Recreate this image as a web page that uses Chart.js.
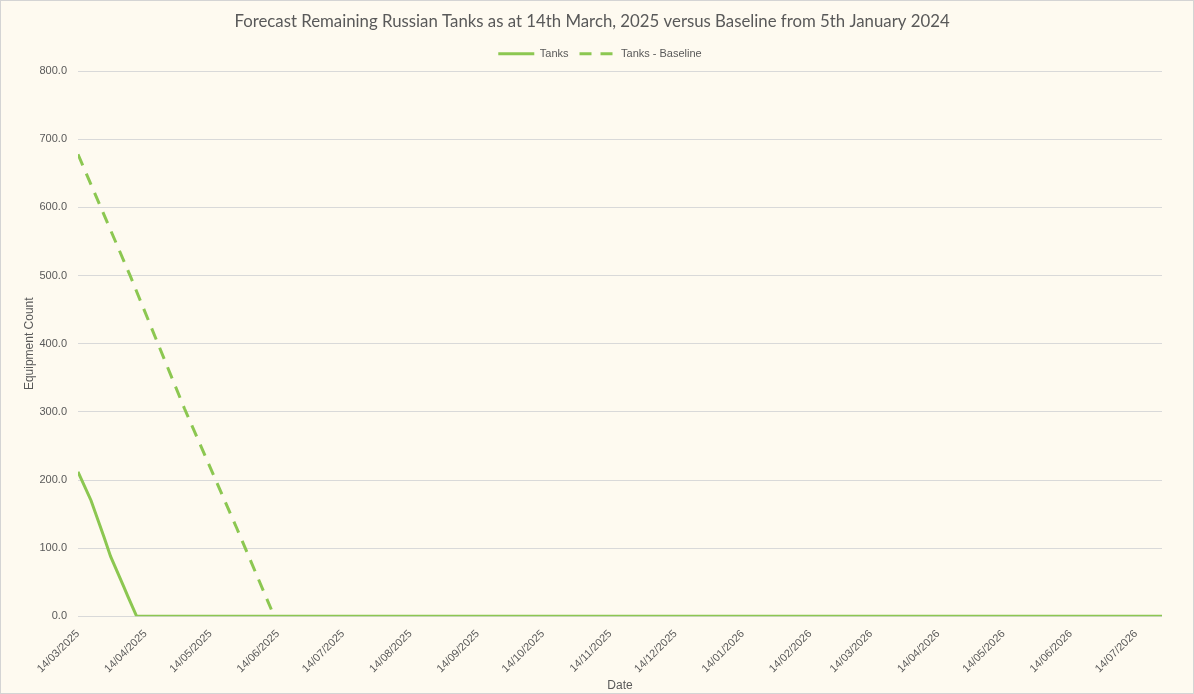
<!DOCTYPE html>
<html>
<head>
<meta charset="utf-8">
<script src="https://cdn.jsdelivr.net/npm/chart.js@4.4.1/dist/chart.umd.min.js"></script>
<style>
  body { margin: 0; background: #fff; }
  #wrap { width: 1194px; height: 694px; box-sizing: border-box; border: 1px solid #d4d4d4; background: #fefaf0; }
  #c { display: block; }
</style>
</head>
<body>
<div id="wrap"><canvas id="c" width="1192" height="692"></canvas></div>
<script>
// days counted from 14/03/2025
var startDate = '14/03/2025'
var lastDay = 499

var tanksDays   = [0, 6, 10, 12, 15, 18, 21, 23, 27, 499]
var tanksValues = [212, 170, 134, 116, 88, 66, 44, 29, 0, 0]

var baseDays   = [0, 24, 49, 73, 89]
var baseValues = [678, 500, 305, 130, 10]

var tickLabels = ['14/03/2025','14/04/2025','14/05/2025','14/06/2025','14/07/2025','14/08/2025',
  '14/09/2025','14/10/2025','14/11/2025','14/12/2025','14/01/2026','14/02/2026','14/03/2026',
  '14/04/2026','14/05/2026','14/06/2026','14/07/2026']

var yTicks = [0, 100, 200, 300, 400, 500, 600, 700, 800]

var green = '#8cc751'
var grey = '#595959'

function parse_fecha(s){
  var p = s.split('/')
  return Date.UTC(+p[2], +p[1] - 1, +p[0])
}

function dias_desde_inicio(s){
  return Math.round((parse_fecha(s) - parse_fecha(startDate)) / 86400000)
}

function to_points(days, vals){
  var out = []
  for (var i = 0; i < days.length; i++){
    out.push({x: days[i], y: vals[i]})
  }
  return out
}

var tickDays = tickLabels.map(dias_desde_inicio)

// the excel legend sits a bit right of centre and a little higher
var moverLeyenda = {
  id: 'moverLeyenda',
  afterLayout: function(chart){
    chart.legend.left += 8
    chart.legend.right += 8
    chart.legend.top -= 2
    chart.legend.bottom -= 2
  }
}

new Chart(document.getElementById('c'), {
  type: 'line',
  plugins: [moverLeyenda],
  data: {
    datasets: [
      {
        label: 'Tanks',
        data: to_points(tanksDays, tanksValues),
        borderColor: green,
        backgroundColor: green,
        borderWidth: 3,
        pointRadius: 0,
        tension: 0
      },
      {
        label: 'Tanks - Baseline',
        data: to_points(baseDays, baseValues),
        borderColor: green,
        backgroundColor: green,
        borderWidth: 3,
        borderDash: [12, 9],
        pointRadius: 0,
        tension: 0
      }
    ]
  },
  options: {
    responsive: false,
    animation: false,
    layout: { padding: { left: 21, right: 31, top: 0, bottom: 0 } },
    plugins: {
      title: {
        display: true,
        text: 'Forecast Remaining Russian Tanks as at 14th March, 2025 versus Baseline from 5th January 2024',
        color: grey,
        font: { family: 'Lato', size: 16.8, weight: 'normal' },
        padding: { top: 11, bottom: 7 }
      },
      legend: {
        position: 'top',
        labels: {
          color: grey,
          font: { family: 'Liberation Sans', size: 11 },
          usePointStyle: true,
          pointStyle: 'line',
          pointStyleWidth: 36,
          boxHeight: 11,
          padding: 11,
          generateLabels: function(chart){
            var items = Chart.defaults.plugins.legend.labels.generateLabels(chart)
            items.forEach(function(it){
              it.lineDash = chart.data.datasets[it.datasetIndex].borderDash || []
            })
            return items
          }
        }
      },
      tooltip: { enabled: false }
    },
    scales: {
      x: {
        type: 'linear',
        min: 0,
        max: lastDay,
        afterBuildTicks: function(scale){
          scale.ticks = tickDays.map(function(d){ return {value: d} })
        },
        ticks: {
          autoSkip: false,
          maxRotation: 45,
          minRotation: 45,
          color: grey,
          font: { family: 'Liberation Sans', size: 11 },
          callback: function(v){
            var i = tickDays.indexOf(v)
            return i >= 0 ? tickLabels[i] : ''
          }
        },
        grid: { display: false },
        border: { display: false },
        title: {
          display: true,
          text: 'Date',
          color: grey,
          font: { family: 'Liberation Sans', size: 12 },
          padding: { top: 0, bottom: 0 }
        }
      },
      y: {
        min: 0,
        max: 800,
        afterBuildTicks: function(scale){
          scale.ticks = yTicks.map(function(v){ return {value: v} })
        },
        afterFit: function(scale){ scale.width = 56 },
        ticks: {
          color: grey,
          padding: 11,
          font: { family: 'Liberation Sans', size: 11 },
          callback: function(v){ return v.toFixed(1) }
        },
        grid: { color: '#d9d9d9', lineWidth: 1, drawTicks: false },
        border: { display: false },
        title: {
          display: true,
          text: 'Equipment Count',
          color: grey,
          font: { family: 'Liberation Sans', size: 12 },
          padding: { top: 0, bottom: 10 }
        }
      }
    }
  }
})
</script>
</body>
</html>
